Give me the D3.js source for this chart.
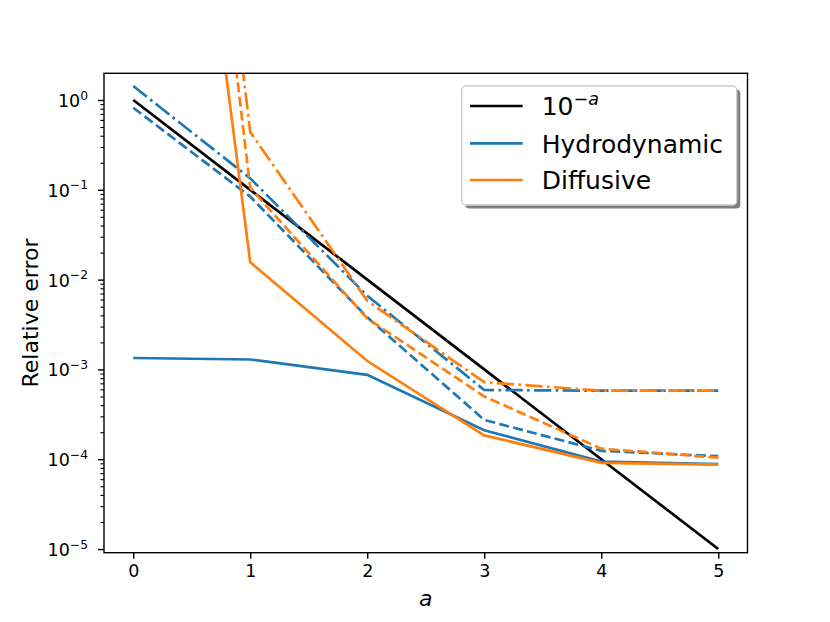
<!DOCTYPE html>
<html>
<head>
<meta charset="utf-8">
<script src="https://cdn.jsdelivr.net/npm/d3@7"></script>
<style>
  body { margin: 0; background: #fff; }
  svg { font-family: "DejaVu Sans", sans-serif; }
</style>
</head>
<body>
<div class="chart"></div>
<script>
// values, one entry per a = 0..5
const aValues = [0, 1, 2, 3, 4, 5];
const refLine = [1, 0.1, 0.01, 0.001, 1e-4, 1e-5];
const hydroSolid = [1.34e-3, 1.29e-3, 8.7e-4, 2.1e-4, 9.4e-5, 8.8e-5];
const hydroDashed = [0.82, 0.084, 3.8e-3, 2.74e-4, 1.24e-4, 1.08e-4];
const hydroDashdot = [1.43, 0.134, 6.6e-3, 5.9e-4, 5.8e-4, 5.8e-4];
const diffSolid = [2.1e8, 0.0156, 1.24e-3, 1.84e-4, 9.1e-5, 8.7e-5];
const diffDashed = [1e10, 0.105, 3.7e-3, 5.0e-4, 1.31e-4, 1.04e-4];
const diffDashdot = [3.3e10, 0.44, 5.8e-3, 7.2e-4, 5.8e-4, 5.8e-4];

const xTicks = [0, 1, 2, 3, 4, 5];
const yTickExps = [0, -1, -2, -3, -4, -5];
const legendLabels = ["Hydrodynamic", "Diffusive"];

const width = 830, height = 622;
const margin = { top: 73.3, right: 82.5, bottom: 69.3, left: 104 };
const blue = "#1f77b4", orange = "#ff7f0e";
const dashed = "10,4.3", dashdot = "17.3,4.3,2.7,4.3";

const svg = d3.select(".chart").append("svg")
  .attr("width", width)
  .attr("height", height);

const x = d3.scaleLinear().domain([-0.25, 5.25])
  .range([margin.left, width - margin.right]);
const y = d3.scaleLog().domain([9.1e-6, 1.983])
  .range([height - margin.bottom, margin.top]);

svg.append("clipPath").attr("id", "plotclip")
  .append("rect")
  .attr("x", margin.left).attr("y", margin.top)
  .attr("width", width - margin.left - margin.right)
  .attr("height", height - margin.top - margin.bottom);

// lines
const line = d3.line().x((d, i) => x(aValues[i])).y(d => y(d));
const series = [
  { values: refLine, color: "#000", dash: null },
  { values: hydroSolid, color: blue, dash: null },
  { values: hydroDashed, color: blue, dash: dashed },
  { values: hydroDashdot, color: blue, dash: dashdot },
  { values: diffSolid, color: orange, dash: null },
  { values: diffDashed, color: orange, dash: dashed },
  { values: diffDashdot, color: orange, dash: dashdot }
];
svg.append("g").attr("clip-path", "url(#plotclip)")
  .selectAll("path").data(series).enter()
  .append("path")
  .attr("d", d => line(d.values))
  .attr("fill", "none")
  .attr("stroke", d => d.color)
  .attr("stroke-width", 2.7)
  .attr("stroke-dasharray", d => d.dash);

// x axis
const xAxis = svg.append("g")
  .attr("transform", `translate(0, ${height - margin.bottom})`)
  .call(d3.axisBottom(x).tickValues(xTicks).tickSize(6).tickPadding(6)
    .tickFormat(d3.format("d")));
xAxis.select(".domain").remove();
xAxis.selectAll("line").attr("stroke-width", 1.4);
xAxis.selectAll("text").attr("font-size", 17.5).attr("font-family", "DejaVu Sans").attr("fill", "#000");

// y axis, major + minor
const minors = [];
for (let e = -6; e <= 0; e++) {
  for (let m = 2; m <= 9; m++) {
    const v = m * Math.pow(10, e);
    if (v >= y.domain()[0] && v <= y.domain()[1]) minors.push(v);
  }
}
const yMinor = svg.append("g")
  .attr("transform", `translate(${margin.left}, 0)`)
  .call(d3.axisLeft(y).tickValues(minors).tickSize(3.6).tickFormat(""));
yMinor.select(".domain").remove();
yMinor.selectAll("line").attr("stroke-width", 1.1);

const yMajor = svg.append("g")
  .attr("transform", `translate(${margin.left}, 0)`)
  .call(d3.axisLeft(y).tickValues(yTickExps.map(e => Math.pow(10, e)))
    .tickSize(6).tickFormat(""));
yMajor.select(".domain").remove();
yMajor.selectAll("line").attr("stroke-width", 1.4);

const yLabels = svg.append("g").attr("font-size", 17.5).attr("text-anchor", "end");
yTickExps.forEach(e => {
  const t = yLabels.append("text")
    .attr("x", margin.left - 16)
    .attr("y", y(Math.pow(10, e)) + 7);
  t.append("tspan").text("10");
  t.append("tspan").attr("font-size", 12.3).attr("dy", -7.5)
    .text(e === 0 ? "0" : "\u2212" + Math.abs(e));
});

// frame
svg.append("rect")
  .attr("x", margin.left).attr("y", margin.top)
  .attr("width", width - margin.left - margin.right)
  .attr("height", height - margin.top - margin.bottom)
  .attr("fill", "none").attr("stroke", "#000").attr("stroke-width", 1.4);

// axis titles
svg.append("text")
  .attr("x", (margin.left + width - margin.right) / 2)
  .attr("y", 606)
  .attr("text-anchor", "middle")
  .attr("font-size", 22)
  .attr("font-style", "italic")
  .text("a");

svg.append("text")
  .attr("transform", `translate(38, ${(margin.top + height - margin.bottom) / 2}) rotate(-90)`)
  .attr("text-anchor", "middle")
  .attr("font-size", 22)
  .text("Relative error");

// legend
const lg = svg.append("g").attr("transform", "translate(461.7, 86)");
const lgW = 275, lgH = 119;
lg.append("rect").attr("x", 3.6).attr("y", 3.6)
  .attr("width", lgW).attr("height", lgH).attr("rx", 4)
  .attr("fill", "#000").attr("opacity", 0.5);
lg.append("rect")
  .attr("width", lgW).attr("height", lgH).attr("rx", 4)
  .attr("fill", "#fff").attr("stroke", "#cccccc").attr("stroke-width", 1.4);

const legendItems = [
  { color: "#000", ly: 20 },
  { color: blue, ly: 57.3, label: legendLabels[0] },
  { color: orange, ly: 94, label: legendLabels[1] }
];
legendItems.forEach((d, i) => {
  lg.append("line")
    .attr("x1", 8.3).attr("x2", 61)
    .attr("y1", d.ly).attr("y2", d.ly)
    .attr("stroke", d.color).attr("stroke-width", 2.7);
  const t = lg.append("text")
    .attr("x", 80).attr("y", d.ly + 9.3)
    .attr("font-size", 25);
  if (i === 0) {
    t.append("tspan").text("10");
    t.append("tspan").attr("font-size", 17.5).attr("dy", -10.5).text("\u2212");
    t.append("tspan").attr("font-size", 17.5).attr("font-style", "italic").text("a");
  } else {
    t.text(d.label);
  }
});
</script>
</body>
</html>
